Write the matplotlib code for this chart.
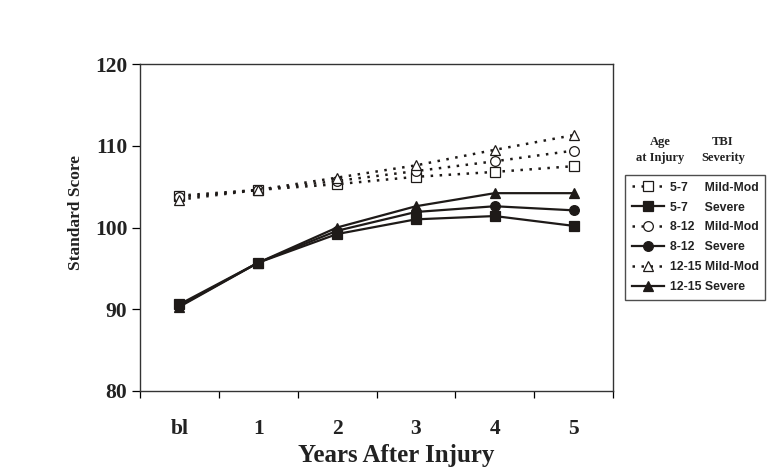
import matplotlib
matplotlib.use("Agg")
import matplotlib.pyplot as plt

categories = ["bl", "1", "2", "3", "4", "5"]
mild_5_7 = [103.9, 104.6, 105.3, 106.2, 106.8, 107.5]
sev_5_7 = [90.6, 95.7, 99.2, 101.0, 101.4, 100.2]
mild_8_12 = [103.7, 104.6, 105.7, 106.9, 108.1, 109.4]
sev_8_12 = [90.4, 95.7, 99.6, 101.9, 102.6, 102.1]
mild_12_15 = [103.4, 104.6, 106.1, 107.6, 109.5, 111.3]
sev_12_15 = [90.3, 95.7, 100.0, 102.6, 104.2, 104.2]
labels = ["5-7     Mild-Mod", "5-7     Severe", "8-12   Mild-Mod", "8-12   Severe",
          "12-15 Mild-Mod", "12-15 Severe"]
yticks = [80, 90, 100, 110, 120]

serif = ["Liberation Serif", "DejaVu Serif"]
sans = ["Liberation Sans", "DejaVu Sans"]

fig = plt.figure(figsize=(7.69, 4.70), dpi=100)
ax = fig.add_axes([140/769, 1-391/470, (613-140)/769, (391-64)/470])

x = list(range(len(categories)))
ink = "#1e1a18"
dot = (0, (1.0, 2.6))
series = [
    (mild_5_7, "s", "white", dot),
    (sev_5_7, "s", ink, "-"),
    (mild_8_12, "o", "white", dot),
    (sev_8_12, "o", ink, "-"),
    (mild_12_15, "^", "white", dot),
    (sev_12_15, "^", ink, "-"),
]
handles = []
for (vals, mk, fc, ls), lab in zip(series, labels):
    h, = ax.plot(x, vals, linestyle=ls, color=ink, lw=1.6 if ls == "-" else 1.8,
                 marker=mk, markersize=7, markerfacecolor=fc,
                 markeredgecolor=ink, markeredgewidth=0.9, label=lab,
                 dash_capstyle="butt")
    handles.append(h)

ax.set_xlim(-0.5, 5.5)
ax.set_ylim(80, 120)
ax.set_yticks(yticks)
ax.set_xticks(x)
ax.set_xticklabels(categories)
ax.set_xticks([i - 0.5 for i in range(len(categories) + 1)], minor=True)
ax.tick_params(axis="x", which="major", length=0, pad=20)
ax.tick_params(axis="x", which="minor", length=5, direction="out", width=0.9)
ax.tick_params(axis="y", length=6, direction="out", width=0.9, pad=3)
for lab in ax.get_xticklabels() + ax.get_yticklabels():
    lab.set_fontfamily(serif)
    lab.set_fontweight("bold")
    lab.set_fontsize(15.5)
    lab.set_color("#222222")
for sp in ax.spines.values():
    sp.set_linewidth(1.0)
    sp.set_color("#333333")

ax.set_xlabel("Years After Injury", fontfamily=serif, fontweight="bold",
              fontsize=18, color="#222222")
ax.xaxis.set_label_coords((396.5 - 140) / 473, -(444 - 391) / 327)
ax.set_ylabel("Standard Score", fontfamily=serif, fontweight="bold",
              fontsize=12.5, color="#222222")
ax.yaxis.set_label_coords(-(140 - 84) / 473, (391 - 212) / 327)

leg = fig.legend(handles=handles, labels=labels, loc="upper left",
                 bbox_to_anchor=(625/769, 1-175/470), borderaxespad=0,
                 frameon=True, fancybox=False, edgecolor="#222222",
                 borderpad=0.55, handlelength=2.6, handletextpad=0.5,
                 labelspacing=0.64,
                 prop={"family": sans, "weight": "bold", "size": 8.8})
leg.get_frame().set_linewidth(1.0)
for t in leg.get_texts():
    t.set_color("#222222")

hdr = dict(fontfamily=serif, fontweight="bold", fontsize=9, color="#222222",
           ha="center", va="center")
fig.text(660/769, 1-142/470, "Age", **hdr)
fig.text(660/769, 1-158/470, "at Injury", **hdr)
fig.text(723/769, 1-142/470, "TBI", **hdr)
fig.text(723/769, 1-158/470, "Severity", **hdr)

fig.savefig("out.png", dpi=100, facecolor="white")
